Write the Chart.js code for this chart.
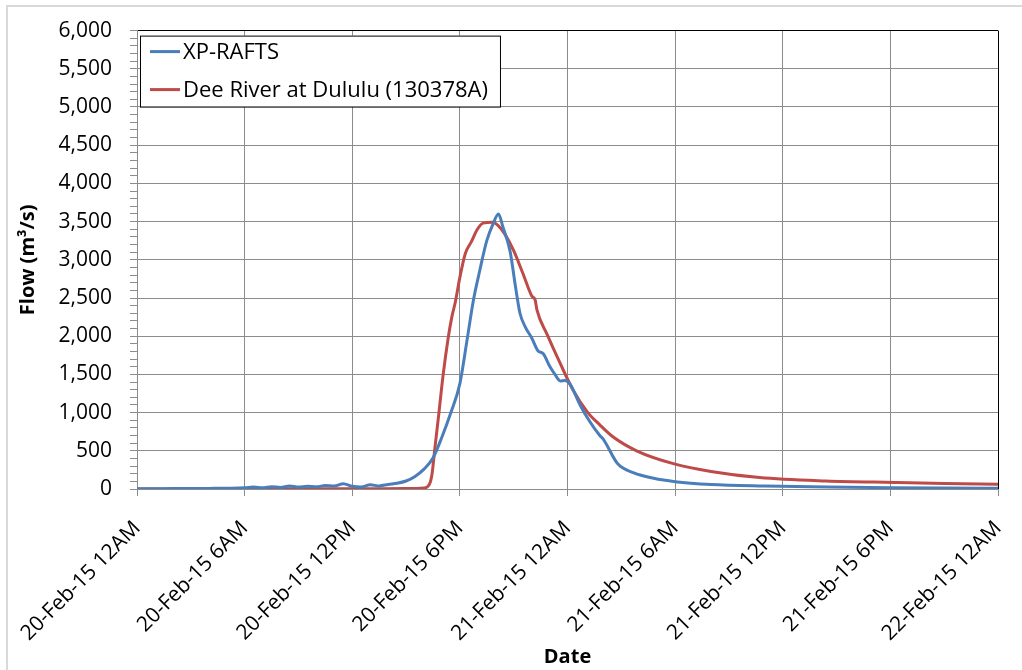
<!DOCTYPE html>
<html>
<head>
<meta charset="utf-8">
<script src="https://cdn.jsdelivr.net/npm/chart.js@4/dist/chart.umd.min.js"></script>
<style>
  html, body { margin: 0; padding: 0; background: #fff; overflow: hidden; }
  #wrap { position: relative; width: 1022px; height: 670px; }
  #frame { position: absolute; left: 6px; top: 5px; width: 1100px; height: 800px;
           border: 2px solid #d9d9d9; pointer-events: none; }
</style>
</head>
<body>
<div id="wrap">
  <canvas id="chart"></canvas>
  <div id="frame"></div>
</div>
<script>
// tick labels for x axis (every 6 hours from 20-Feb-15 12AM)
var tickLabels = ['20-Feb-15 12AM', '20-Feb-15 6AM', '20-Feb-15 12PM', '20-Feb-15 6PM',
                  '21-Feb-15 12AM', '21-Feb-15 6AM', '21-Feb-15 12PM', '21-Feb-15 6PM', '22-Feb-15 12AM'];

// XP-RAFTS: hours since start, flow (m3/s)
var xpHours = [0, 1, 2, 3, 4, 5, 6, 6.5, 7, 7.5, 8, 8.5, 9, 9.5, 10, 10.5, 11, 11.5, 12, 12.5,
               13, 13.5, 14, 14.5, 15, 15.5, 16, 16.5, 17, 17.5, 18, 18.4, 18.75, 19.1, 19.5, 19.85,
               20.15, 20.4, 20.8, 21.1, 21.35, 21.65, 22, 22.35, 22.65, 23, 23.3, 23.6, 23.85, 24.15,
               24.7, 25.25, 25.8, 26, 26.8, 27.7, 28.8, 30, 32, 35, 38.5, 42, 45, 48];
var xpFlow  = [2, 3, 5, 6, 8, 10, 15, 25, 15, 30, 20, 40, 25, 35, 30, 45, 40, 70, 35, 25,
               55, 40, 60, 75, 105, 165, 260, 405, 680, 1000, 1380, 1950, 2465, 2850, 3250, 3470,
               3600, 3430, 3110, 2650, 2300, 2120, 1980, 1810, 1770, 1610, 1500, 1415, 1420, 1370,
               1100, 880, 700, 650, 330, 210, 140, 96, 60, 40, 26, 17, 12, 9];

// Dee River at Dululu (130378A) gauge
var gaugeHours = [0, 6, 12, 15, 16, 16.3, 16.45, 16.6, 16.8, 17.07, 17.35, 17.55, 17.75, 18, 18.3,
                  18.65, 18.95, 19.3, 19.8, 20.15, 20.5, 21, 21.5, 22, 22.2, 22.3, 22.85, 23.6, 24.3,
                  25.1, 25.8, 26.55, 27.85, 30, 32, 34.7, 38.4, 42.2, 45, 48];
var gaugeFlow  = [0, 2, 3, 5, 12, 60, 200, 520, 930, 1500, 1980, 2250, 2450, 2770, 3080,
                  3240, 3390, 3480, 3490, 3445, 3340, 3120, 2830, 2530, 2470, 2340, 2030, 1640, 1300,
                  1010, 840, 680, 500, 325, 230, 150, 105, 85, 72, 62];

var seriesNames = ['XP-RAFTS', 'Dee River at Dululu (130378A)'];
var seriesColors = ['#4A7EBB', '#BE4B48'];

function toPoints(xs, ys) {
    var pts = [];
    for (var i = 0; i < xs.length; i++) pts.push({x: xs[i], y: ys[i]});
    return pts;
}

var FONT = "'Open Sans', sans-serif";
var GRID = '#8c8c8c';

// legend drawn inside the plot area with a box around it
var boxLegend = {
    id: 'boxLegend',
    afterDraw: function(chart) {
        var ctx = chart.ctx;
        var area = chart.chartArea;
        ctx.save();
        ctx.font = '22px ' + FONT;
        var maxW = 0;
        chart.data.datasets.forEach(function(ds) {
            maxW = Math.max(maxW, ctx.measureText(ds.label).width);
        });
        var bx = area.left + 3, by = area.top + 5;
        var bw = maxW + 55, bh = 71;
        ctx.fillStyle = '#fff';
        ctx.fillRect(bx, by, bw, bh);
        ctx.strokeStyle = '#000';
        ctx.lineWidth = 1;
        ctx.strokeRect(bx + 0.5, by + 0.5, bw, bh);
        chart.data.datasets.forEach(function(ds, i) {
            var ly = by + 16 + i * 38;
            ctx.strokeStyle = ds.borderColor;
            ctx.lineWidth = 3;
            ctx.beginPath();
            ctx.moveTo(bx + 10, ly);
            ctx.lineTo(bx + 40, ly);
            ctx.stroke();
            ctx.fillStyle = '#000';
            ctx.textBaseline = 'middle';
            ctx.fillText(ds.label, bx + 43, ly + 1);
        });
        ctx.restore();
    }
};

var ctx0 = document.getElementById('chart').getContext('2d');
var chart = new Chart(ctx0, {
    type: 'line',
    data: {
        datasets: [
            {
                label: seriesNames[0],
                data: toPoints(xpHours, xpFlow),
                borderColor: seriesColors[0],
                borderWidth: 3,
                pointRadius: 0,
                cubicInterpolationMode: 'monotone',
                fill: false
            },
            {
                label: seriesNames[1],
                data: toPoints(gaugeHours, gaugeFlow),
                borderColor: seriesColors[1],
                borderWidth: 3,
                pointRadius: 0,
                cubicInterpolationMode: 'monotone',
                fill: false
            }
        ]
    },
    options: {
        animation: false,
        responsive: true,
        maintainAspectRatio: false,
        layout: { padding: { top: 29, right: 24, left: 0, bottom: 0 } },
        plugins: {
            legend: { display: false },
            tooltip: { enabled: false }
        },
        scales: {
            x: {
                type: 'linear',
                min: 0,
                max: 48,
                afterFit: function(scale) {
                    scale.height = 181;
                    scale.paddingLeft = 0;
                    scale.paddingRight = 0;
                },
                afterBuildTicks: function(scale) {
                    scale.ticks = tickLabels.map(function(l, i) { return {value: i * 6}; });
                },
                border: { color: GRID, width: 1 },
                grid: {
                    color: function(c) { return c.tick && c.tick.value === 48 ? '#000' : GRID; },
                    tickColor: GRID,
                    tickLength: 7,
                    lineWidth: 1
                },
                ticks: {
                    autoSkip: false,
                    maxRotation: 45,
                    minRotation: 45,
                    padding: 20,
                    color: '#000',
                    font: { size: 21, family: FONT },
                    callback: function(v) { return tickLabels[Math.round(v / 6)]; }
                },
                title: {
                    display: true,
                    text: 'Date',
                    color: '#000',
                    padding: { top: 0, bottom: 1 },
                    font: { size: 20, weight: 'bold', family: FONT }
                }
            },
            y: {
                min: 0,
                max: 6000,
                afterFit: function(scale) { scale.width = 137; },
                border: { color: GRID, width: 1 },
                grid: {
                    color: function(c) {
                        if (!c.tick) return GRID;
                        if (c.tick.value === 6000) return '#000';
                        return c.tick.value % 500 === 0 ? GRID : 'rgba(0,0,0,0)';
                    },
                    tickColor: GRID,
                    tickLength: 7,
                    lineWidth: 1
                },
                ticks: {
                    stepSize: 100,
                    autoSkip: false,
                    padding: 18,
                    color: '#000',
                    font: { size: 21, family: FONT },
                    callback: function(v) { return v % 500 === 0 ? v.toLocaleString('en-US') : ''; }
                },
                title: {
                    display: true,
                    text: 'Flow (m³/s)',
                    color: '#000',
                    padding: { top: 16, bottom: 0 },
                    font: { size: 20, weight: 'bold', family: FONT }
                }
            }
        }
    },
    plugins: [boxLegend]
});
</script>
</body>
</html>
